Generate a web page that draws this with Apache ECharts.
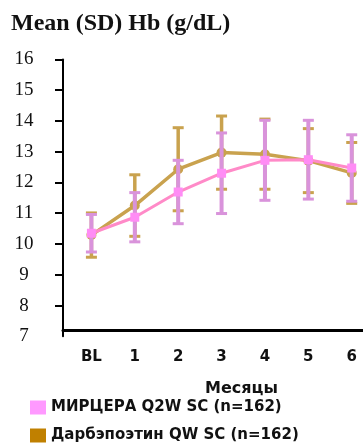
<!DOCTYPE html>
<html>
<head>
<meta charset="utf-8">
<script src="https://cdn.jsdelivr.net/npm/echarts@6/dist/echarts.min.js"></script>
<style>
  html, body { margin: 0; padding: 0; background: #fff; }
  #chart { width: 363px; height: 446px; }
</style>
</head>
<body>
<div id="chart"></div>
<script>
// Visits: baseline and months 1-6
const months = ['BL', '1', '2', '3', '4', '5', '6'];
const yTickValues = [8, 9, 10, 11, 12, 13, 14, 15, 16];

// Haemoglobin, g/dL: mean and standard deviation per visit
const mirceraMean = [10.35, 10.87, 11.69, 12.30, 12.72, 12.74, 12.47];
const mirceraSD   = [0.61, 0.80, 1.03, 1.31, 1.30, 1.28, 1.08];
const darbeMean   = [10.29, 11.25, 12.43, 12.97, 12.92, 12.71, 12.31];
const darbeSD     = [0.72, 1.00, 1.35, 1.19, 1.14, 1.04, 0.99];

const seriesNames = ['МИРЦЕРА Q2W SC (n=162)', 'Дарбэпоэтин QW SC (n=162)'];

const SANS = 'DejaVu Sans';
const SERIF = 'Liberation Serif';

// Vertical SD whiskers with caps, drawn through the axis scales
function errorBars(mean, sd, color, barWidth, capWidth, z) {
  return {
    type: 'custom',
    silent: true,
    z: z,
    data: mean.map((m, i) => [i, m - sd[i], m + sd[i]]),
    encode: { x: 0, y: [1, 2] },
    renderItem: function (params, api) {
      const x = api.value(0);
      const lo = api.coord([x, api.value(1)]);
      const hi = api.coord([x, api.value(2)]);
      const capStyle = { stroke: color, lineWidth: 3, fill: null };
      return {
        type: 'group',
        children: [
          { type: 'line', shape: { x1: lo[0], y1: lo[1], x2: hi[0], y2: hi[1] },
            style: { stroke: color, lineWidth: barWidth, fill: null } },
          { type: 'line', shape: { x1: lo[0] - capWidth / 2, y1: lo[1], x2: lo[0] + capWidth / 2, y2: lo[1] },
            style: capStyle },
          { type: 'line', shape: { x1: hi[0] - capWidth / 2, y1: hi[1], x2: hi[0] + capWidth / 2, y2: hi[1] },
            style: capStyle }
        ]
      };
    }
  };
}

const chart = echarts.init(document.getElementById('chart'), null, { renderer: 'canvas' });

chart.setOption({
  animation: false,
  backgroundColor: '#fff',
  title: {
    text: 'Mean (SD) Hb (g/dL)',
    left: 11,
    top: 12,
    padding: 0,
    textStyle: { fontFamily: SERIF, fontWeight: 'bold', fontSize: 24, color: '#111' }
  },
  grid: { left: 63, right: 0, top: 59.4, bottom: 109.7, containLabel: false },
  xAxis: {
    type: 'value',
    min: -0.655,
    max: 6.26,
    offset: -6,
    splitLine: { show: false },
    axisTick: { show: false },
    axisLine: { show: true, onZero: false, lineStyle: { color: '#000', width: 3 } },
    axisLabel: {
      customValues: months.map((m, i) => i),
      formatter: v => months[Math.round(v)],
      fontFamily: SANS, fontWeight: 'bold', fontSize: 15, color: '#111', margin: 19
    },
    name: 'Месяцы',
    nameLocation: 'middle',
    nameGap: 51,
    nameTextStyle: {
      fontFamily: SANS, fontWeight: 'bold', fontSize: 16, color: '#111',
      padding: [0, 0, 0, 57]
    }
  },
  yAxis: {
    type: 'value',
    min: 7,
    max: 16,
    interval: 1,
    splitLine: { show: false },
    axisLine: { show: true, onZero: false, lineStyle: { color: '#000', width: 2 } },
    axisTick: { show: true, length: 8, customValues: yTickValues, lineStyle: { color: '#000', width: 2 } },
    axisLabel: { fontFamily: SERIF, fontSize: 19, color: '#111', align: 'center', margin: 39 }
  },
  legend: {
    orient: 'vertical',
    left: 30,
    top: 400,
    padding: 0,
    icon: 'rect',
    itemWidth: 16,
    itemHeight: 14,
    itemGap: 13,
    selectedMode: false,
    textStyle: { fontFamily: SANS, fontWeight: 'bold', fontSize: 15, color: '#111' },
    data: [
      { name: seriesNames[0], itemStyle: { color: '#FF99FF' } },
      { name: seriesNames[1], itemStyle: { color: '#C08000' } }
    ]
  },
  series: [
    errorBars(darbeMean, darbeSD, '#C9A24E', 3.5, 11, 2),
    {
      type: 'line',
      name: seriesNames[1],
      z: 3,
      data: darbeMean.map((v, i) => [i, v]),
      symbol: 'circle',
      symbolSize: 10,
      lineStyle: { color: '#C9A24E', width: 3.5 },
      itemStyle: { color: '#C9A24E' }
    },
    errorBars(mirceraMean, mirceraSD, '#D993DB', 4, 11, 4),
    {
      type: 'line',
      name: seriesNames[0],
      z: 5,
      data: mirceraMean.map((v, i) => [i, v]),
      symbol: 'rect',
      symbolSize: 9,
      lineStyle: { color: '#FF8AC8', width: 3 },
      itemStyle: { color: '#FF8CF5' }
    }
  ]
});
</script>
</body>
</html>
